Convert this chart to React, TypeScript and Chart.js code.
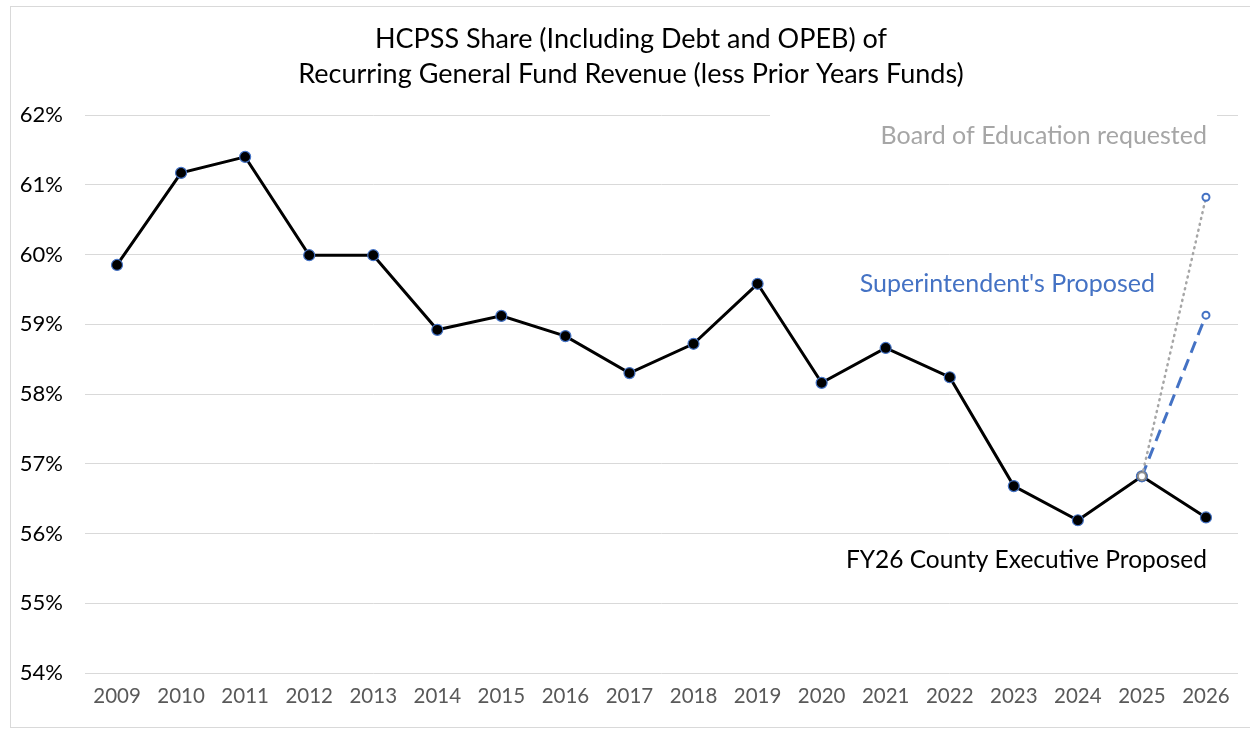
import React, { useEffect, useRef } from "react";
import { Chart, registerables } from "chart.js";

Chart.register(...registerables);

const years: string[] = [
  "2009", "2010", "2011", "2012", "2013", "2014", "2015", "2016", "2017",
  "2018", "2019", "2020", "2021", "2022", "2023", "2024", "2025", "2026",
];

const countyExecutive: (number | null)[] = [
  59.85, 61.17, 61.4, 59.99, 59.99, 58.92, 59.12, 58.83, 58.3,
  58.72, 59.58, 58.16, 58.66, 58.24, 56.68, 56.19, 56.82, 56.23,
];

const superintendent: (number | null)[] = [
  null, null, null, null, null, null, null, null, null,
  null, null, null, null, null, null, null, 56.82, 59.13,
];

const boardRequested: (number | null)[] = [
  null, null, null, null, null, null, null, null, null,
  null, null, null, null, null, null, null, 56.82, 60.82,
];

const titleLines: string[] = [
  "HCPSS Share (Including Debt and OPEB) of",
  "Recurring General Fund Revenue (less Prior Years Funds)",
];

const FONT = "Lato, 'Open Sans', sans-serif";

const decorPlugin = {
  id: "decor",
  beforeDraw(chart: any) {
    const { ctx, width, height } = chart;
    ctx.save();
    ctx.fillStyle = "#ffffff";
    ctx.fillRect(0, 0, width, height);
    ctx.strokeStyle = "#d9d9d9";
    ctx.lineWidth = 1;
    ctx.strokeRect(10.5, 6.5, width - 10, 721);
    ctx.restore();
  },
  beforeDatasetsDraw(chart: any) {
    const { ctx } = chart;
    const y = chart.scales.y;
    ctx.save();
    // white text box covering gridline behind the Board label
    ctx.fillStyle = "#ffffff";
    ctx.fillRect(770, y.getPixelForValue(62) - 6, 447, 50);
    ctx.restore();
  },
  afterDraw(chart: any) {
    const { ctx } = chart;
    const y = chart.scales.y;
    const x = chart.scales.x;
    ctx.save();
    ctx.fillStyle = "#000000";
    ctx.textAlign = "center";
    ctx.textBaseline = "middle";
    ctx.font = `27px ${FONT}`;
    ctx.fillText(titleLines[0], 631, 39);
    ctx.fillText(titleLines[1], 631, 74);

    const right = x.getPixelForValue(17) + 1;
    ctx.textAlign = "right";
    ctx.font = `25px ${FONT}`;
    ctx.fillStyle = "#a6a6a6";
    ctx.fillText("Board of Education requested", right, y.getPixelForValue(61.7));
    ctx.fillStyle = "#4472c4";
    ctx.fillText("Superintendent's Proposed", right - 52, y.getPixelForValue(59.58));
    ctx.font = `24.5px ${FONT}`;
    ctx.fillStyle = "#000000";
    ctx.fillText("FY26 County Executive Proposed", right, y.getPixelForValue(55.62));
    ctx.restore();
  },
};

export default function App() {
  const ref = useRef<HTMLCanvasElement | null>(null);

  useEffect(() => {
    document.body.style.margin = "0";
    const canvas = ref.current;
    if (!canvas) return;
    const chart = new Chart(canvas, {
      type: "line",
      data: {
        labels: years,
        datasets: [
          {
            label: "Board of Education requested",
            data: boardRequested,
            borderColor: "#a6a6a6",
            borderWidth: 2.5,
            borderDash: [1, 5],
            borderCapStyle: "round",
            pointRadius: [0, 0, 0, 0, 0, 0, 0, 0, 0, 0, 0, 0, 0, 0, 0, 0, 4, 3.5],
            pointBackgroundColor: "#ffffff",
            pointBorderColor: ["#a6a6a6", "#a6a6a6", "#a6a6a6", "#a6a6a6", "#a6a6a6", "#a6a6a6", "#a6a6a6", "#a6a6a6", "#a6a6a6", "#a6a6a6", "#a6a6a6", "#a6a6a6", "#a6a6a6", "#a6a6a6", "#a6a6a6", "#a6a6a6", "#8f8f8f", "#4472c4"],
            pointBorderWidth: 2,
            spanGaps: false,
            order: 0,
          },
          {
            label: "Superintendent's Proposed",
            data: superintendent,
            borderColor: "#4472c4",
            borderWidth: 3,
            borderDash: [12, 7],
            pointRadius: [0, 0, 0, 0, 0, 0, 0, 0, 0, 0, 0, 0, 0, 0, 0, 0, 0, 3.5],
            pointBackgroundColor: "#ffffff",
            pointBorderColor: "#4472c4",
            pointBorderWidth: 2,
            order: 1,
          },
          {
            label: "FY26 County Executive Proposed",
            data: countyExecutive,
            borderColor: "#000000",
            borderWidth: 3,
            pointRadius: 5.5,
            pointBackgroundColor: "#000000",
            pointBorderColor: "#4472c4",
            pointBorderWidth: 1.2,
            order: 2,
          },
        ],
      },
      options: {
        responsive: false,
        animation: false,
        layout: { padding: { left: 10, right: 12, top: 115, bottom: 4 } },
        plugins: {
          legend: { display: false },
          title: { display: false },
          tooltip: { enabled: false },
        },
        scales: {
          x: {
            offset: true,
            grid: { display: false, drawTicks: false },
            border: { display: false },
            ticks: {
              color: "#595959",
              font: { family: FONT, size: 20.5 },
              padding: 11,
              maxRotation: 0,
              autoSkip: false,
            },
            afterFit(scale: any) {
              scale.height = 54;
            },
          },
          y: {
            min: 54,
            max: 62,
            grid: { color: "#d9d9d9", lineWidth: 1, drawTicks: false },
            border: { display: false },
            ticks: {
              stepSize: 1,
              color: "#000000",
              font: { family: FONT, size: 22 },
              padding: 22,
              callback: (v: any) => `${v}%`,
            },
            afterFit(scale: any) {
              scale.width = 75;
            },
          },
        },
      },
      plugins: [decorPlugin],
    });
    return () => chart.destroy();
  }, []);

  return (
    <div style={{ width: 1250, height: 731, position: "relative" }}>
      <canvas ref={ref} width={1250} height={731} style={{ display: "block" }} />
    </div>
  );
}
